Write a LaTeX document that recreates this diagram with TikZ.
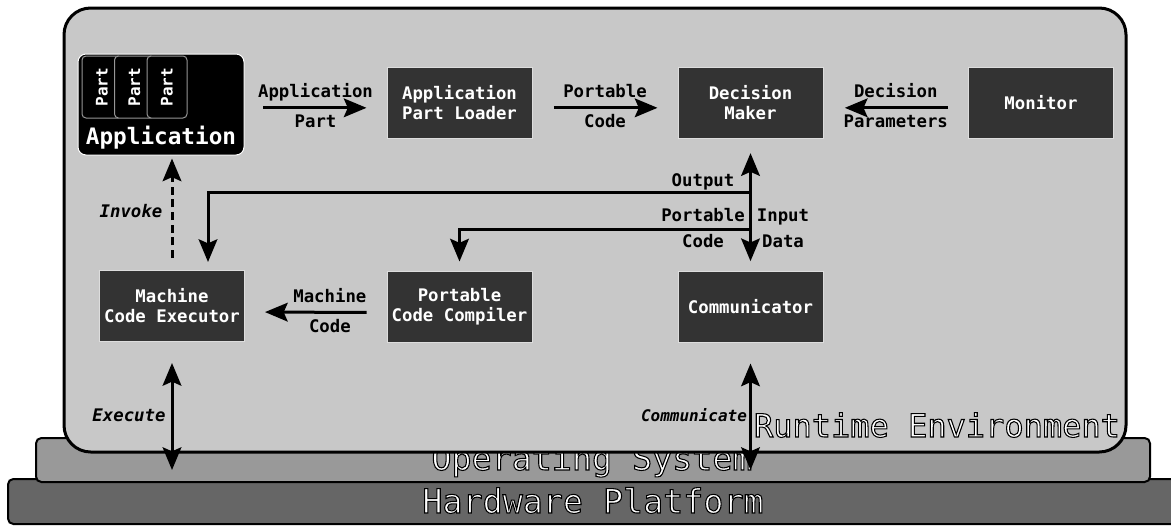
\documentclass[tikz,border=0pt]{standalone}
\usepackage{fontspec}
\setmonofont{DejaVu Sans Mono}[ItalicFont={DejaVu Sans Mono Oblique},BoldItalicFont={DejaVu Sans Mono Bold Oblique}]
\usetikzlibrary{arrows.meta}

% outlined white text (fill + stroke)
\newcommand{\outlined}[1]{\special{pdf:literal direct 2 Tr 0.8 w 0 G}#1\special{pdf:literal direct 0 Tr}}

\tikzset{every picture/.style={line width=0.75pt}}
\tikzset{
  block/.style={draw={rgb, 255:red, 221; green, 221; blue, 221 }, fill={rgb, 255:red, 51; green, 51; blue, 51 }, text=white, align=center,
    font=\ttfamily\bfseries\fontsize{13}{15}\selectfont, minimum width=108.75pt, minimum height=53.25pt},
  partbox/.style={draw={rgb, 255:red, 150; green, 150; blue, 150 }, fill=black, text=white, rotate=90, rounded corners=3pt,
    font=\ttfamily\bfseries\fontsize{12}{14}\selectfont, minimum width=46.5pt, minimum height=30pt},
  lbl/.style={font=\ttfamily\bfseries\fontsize{13}{15}\selectfont, text height=9.5pt, text depth=2.5pt},
  ilbl/.style={font=\ttfamily\bfseries\itshape\fontsize{13}{15}\selectfont},
  layer/.style={text=white, font=\ttfamily\fontsize{25}{28}\selectfont},
  flow/.style={line width=2.25pt, -{Stealth[length=17pt,width=14pt,inset=3pt]}},
  flowboth/.style={line width=2.25pt, {Stealth[length=17pt,width=14pt,inset=3pt]}-{Stealth[length=17pt,width=14pt,inset=3pt]}}
}

\begin{document}
\begin{tikzpicture}[x=0.75pt,y=0.75pt,yscale=-1,xscale=1]
\useasboundingbox (0,0) rectangle (1171,525);

%Shape: Hardware layer
\draw [fill={rgb, 255:red, 102; green, 102; blue, 102 }, line width=1.5pt, rounded corners=4pt] (8,479) rectangle (1190,524);
% Text Node
\node [layer, anchor=base] (hw) at (593,513) {\outlined{Hardware Platform}};

%Shape: Operating system layer
\draw [fill={rgb, 255:red, 153; green, 153; blue, 153 }, line width=1.5pt, rounded corners=4pt] (36,438) rectangle (1150,482);
% Text Node
\node [layer, anchor=base] (os) at (592,470) {\outlined{Operating System}};

%Shape: Runtime environment
\draw [fill={rgb, 255:red, 200; green, 200; blue, 200 }, line width=2.25pt, rounded corners=20pt] (64,8) rectangle (1126,452);
% Text Node
\node [layer, anchor=base, font=\ttfamily\fontsize{24}{28}\selectfont] (rt) at (937,437) {\outlined{Runtime Environment}};

%Shape: Application with its parts
\node [draw=white, fill=black, rounded corners=6pt, minimum width=124.5pt, minimum height=75.75pt] (app) at (161,104.5) {};
\node [partbox] (part1) at (102,87) {Part};
\node [partbox] (part2) at (134.5,87) {Part};
\node [partbox] (part3) at (167,87) {Part};
\node [text=white, font=\ttfamily\bfseries\fontsize{17}{20}\selectfont] (apptitle) at (161,138) {Application};

%Blocks
\node [block] (apl) at (459.5,102.5) {Application\\Part Loader};
\node [block] (dm) at (750.5,102.5) {Decision\\Maker};
\node [block] (mon) at (1041,102.5) {Monitor};
\node [block] (mce) at (172,306) {Machine\\Code Executor};
\node [block] (pcc) at (459.5,306.5) {Portable\\Code Compiler};
\node [block] (com) at (750.5,306.5) {Communicator};

%Straight Lines
\draw [flow, transform canvas={yshift=-4pt}, shorten <=14pt, shorten >=15pt] (app.east |- apl.west) -- (apl.west)
  node [lbl, midway, above=0.5pt] {Application} node [lbl, midway, below=1pt] {Part};
\draw [flow, transform canvas={yshift=-4pt}, shorten <=16pt, shorten >=15pt] (apl.east) -- (dm.west)
  node [lbl, midway, above=0.5pt] {Portable} node [lbl, midway, below=1pt] {Code};
\draw [flow, transform canvas={yshift=-4pt}, shorten <=15pt, shorten >=16pt] (mon.west) -- (dm.east)
  node [lbl, midway, above=0.5pt] {Decision} node [lbl, midway, below=1pt] {Parameters};
\draw [flow, transform canvas={yshift=-4.5pt}, shorten <=15pt, shorten >=15pt] (pcc.west) -- (mce.east)
  node [lbl, pos=0.4, above=0.5pt] {Machine} node [lbl, pos=0.4, below=1pt] {Code};

%Straight Lines
\draw [flowboth, shorten <=7pt, shorten >=11pt] (com.north) -- (dm.south);
\coordinate (outj) at (750.5,192);
\coordinate (pcj) at (750.5,229);
\draw [flow, line cap=rect, shorten >=6pt] (outj) -| ([xshift=27pt]mce.north);
\draw [flow, line cap=rect, shorten >=6.75pt] (pcj) -| (pcc.north);

%Dashed invoke
\draw [flow, dash pattern={on 6pt off 3.5pt}, shorten <=9pt, shorten >=2.25pt] (mce.north) -- (mce.north |- app.south);

%Execute and communicate
\coordinate (exeend) at (172,470);
\draw [flowboth, shorten <=15.75pt] (mce.south) -- (exeend);
\draw [flowboth, shorten <=15.75pt] (com.south) -- (com.south |- exeend);

% Text Node
\node [lbl] (outlbl) at (703,182) {Output};
% Text Node
\node [lbl] (pclbl1) at (703,217) {Portable};
% Text Node
\node [lbl] (pclbl2) at (703,243) {Code};
% Text Node
\node [lbl] (inlbl1) at (783,217) {Input};
% Text Node
\node [lbl] (inlbl2) at (783,243) {Data};
% Text Node
\node [ilbl] (invlbl) at (131,211) {Invoke};
% Text Node
\node [ilbl] (exelbl) at (129,415) {Execute};
% Text Node
\node [ilbl, font=\ttfamily\bfseries\itshape\fontsize{12}{14}\selectfont] (comlbl) at (694,415) {Communicate};

\end{tikzpicture}
\end{document}
